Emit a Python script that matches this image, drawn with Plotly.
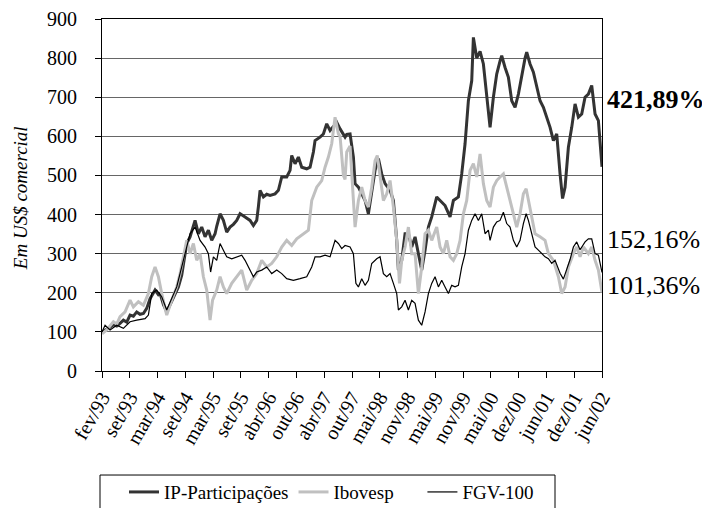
import plotly.graph_objects as go

# x axis: labelled periods (one unit = one tick interval)
tick_labels = ["fev/93", "set/93", "mar/94", "set/94", "mar/95", "set/95", "abr/96",
               "out/96", "abr/97", "out/97", "mai/98", "nov/98", "mai/99", "nov/99",
               "mai/00", "dez/00", "jun/01", "dez/01", "jun/02"]
y_ticks = [0, 100, 200, 300, 400, 500, 600, 700, 800, 900]

# IP-Participações
ip_x = [0, 0.11, 0.29, 0.41, 0.53, 0.65, 0.77, 0.89, 1.01, 1.13, 1.25, 1.37, 1.49, 1.61, 1.73, 1.91,
        2.03, 2.09, 2.21, 2.33, 2.45, 2.57, 2.69, 2.75, 2.87, 2.93, 3.05, 3.17, 3.29, 3.35, 3.47,
        3.59, 3.71, 3.83, 3.95, 4.07, 4.13, 4.25, 4.37, 4.49, 4.61, 4.73, 4.85, 4.97, 5.15, 5.33,
        5.45, 5.57, 5.63, 5.69, 5.81, 5.93, 6.05, 6.23, 6.35, 6.47, 6.65, 6.77, 6.83, 6.95, 7.07,
        7.19, 7.37, 7.49, 7.61, 7.67, 7.85, 7.97, 8.09, 8.21, 8.33, 8.45, 8.57, 8.75, 8.81, 8.93,
        9.05, 9.11, 9.23, 9.35, 9.47, 9.59, 9.71, 9.83, 9.95, 10.07, 10.19, 10.37, 10.49, 10.61,
        10.67, 10.79, 10.91, 11.03, 11.15, 11.27, 11.39, 11.51, 11.63, 11.75, 11.87, 12.05, 12.17,
        12.35, 12.53, 12.65, 12.83, 12.95, 13.07, 13.19, 13.31, 13.37, 13.49, 13.61, 13.73, 13.85,
        13.97, 14.09, 14.21, 14.33, 14.39, 14.51, 14.63, 14.75, 14.87, 14.99, 15.11, 15.23, 15.29,
        15.41, 15.53, 15.65, 15.77, 15.89, 16.01, 16.13, 16.25, 16.37, 16.49, 16.58, 16.67, 16.79,
        16.91, 17.03, 17.15, 17.27, 17.39, 17.51, 17.63, 17.75, 17.87, 18]
ip_y = [100, 104, 112, 118, 115, 122, 130, 125, 143, 140, 151, 145, 147, 160, 185, 207,
        195, 198, 170, 151, 170, 190, 205, 215, 245, 275, 326, 343, 370, 385, 351,
        368, 343, 360, 334, 351, 370, 402, 385, 355, 368, 375, 385, 402, 394, 385,
        372, 385, 420, 462, 445, 452, 449, 453, 462, 496, 496, 513, 551, 530, 547,
        521, 517, 521, 560, 589, 598, 606, 632, 615, 625, 636, 619, 598, 605, 606,
        547, 479, 470, 453, 436, 402, 462, 513, 543, 504, 479, 462, 436, 334,
        258, 283, 351, 351, 317, 343, 300, 258, 309, 368, 394, 445, 436,
        423, 394, 436, 445, 504, 581, 691, 742, 853, 800, 817, 785, 708,
        623, 700, 759, 793, 806, 776, 751, 691, 674, 708, 759, 800, 815,
        785, 764, 725, 691, 674, 649, 623, 589, 606, 504, 441, 470, 572,
        623, 683, 649, 657, 700, 708, 730, 657, 640, 522]

# Ibovesp
ibov_x = [0, 0.17, 0.41, 0.53, 0.65, 0.83, 1.01, 1.13, 1.31, 1.49, 1.67, 1.79, 1.91, 2.03, 2.15,
          2.33, 2.51, 2.69, 2.81, 2.93, 3.05, 3.17, 3.29, 3.41, 3.53, 3.65, 3.77, 3.89, 3.98,
          4.13, 4.25, 4.37, 4.49, 4.67, 4.85, 5.03, 5.21, 5.39, 5.57, 5.75, 5.93, 6.11, 6.29,
          6.47, 6.65, 6.83, 7.01, 7.25, 7.43, 7.55, 7.73, 7.91, 8.03, 8.15, 8.27, 8.39, 8.51,
          8.57, 8.69, 8.75, 8.81, 8.93, 9.05, 9.11, 9.23, 9.35, 9.47, 9.59, 9.71, 9.83, 9.91,
          10.01, 10.13, 10.25, 10.37, 10.49, 10.61, 10.71, 10.79, 10.91, 11.03, 11.15, 11.27,
          11.39, 11.51, 11.63, 11.75, 11.87, 12.05, 12.17, 12.29, 12.41, 12.53, 12.65, 12.77,
          12.89, 13.01, 13.13, 13.25, 13.37, 13.49, 13.61, 13.73, 13.85, 13.97, 14.09, 14.21,
          14.33, 14.45, 14.57, 14.69, 14.81, 14.93, 15.05, 15.17, 15.27, 15.35, 15.47, 15.59,
          15.77, 15.95, 16.07, 16.25, 16.43, 16.55, 16.67, 16.79, 16.97, 17.09, 17.21, 17.33,
          17.51, 17.63, 17.75, 17.87, 18]
ibov_y = [95, 105, 126, 120, 139, 151, 181, 164, 177, 168, 198, 241, 266, 241, 198,
          143, 181, 215, 249, 292, 334, 300, 326, 283, 300, 241, 207, 130, 181,
          207, 241, 215, 198, 224, 241, 258, 207, 232, 249, 283, 266, 275, 292,
          317, 334, 321, 338, 351, 360, 436, 470, 487, 521, 547, 581, 649, 606,
          600, 500, 490, 560, 575, 419, 368, 436, 470, 436, 419, 470, 538, 551,
          504, 436, 453, 487, 419, 334, 224, 283, 317, 368, 300, 300,
          198, 266, 351, 360, 334, 368, 317, 300, 334, 292, 283, 300,
          334, 402, 436, 513, 530, 496, 555, 479, 436, 419, 470, 487,
          496, 504, 470, 436, 402, 368, 402, 453, 466, 436, 394, 351,
          343, 334, 300, 283, 241, 198, 215, 266, 300, 317, 292, 317,
          300, 317, 283, 258, 201]

# FGV-100
fgv_x = [0, 0.11, 0.29, 0.53, 0.77, 1.01, 1.25, 1.55, 1.67, 1.79, 1.97, 2.15, 2.33, 2.51, 2.69,
         2.87, 3.05, 3.17, 3.35, 3.53, 3.71, 3.83, 3.91, 4.01, 4.13, 4.25, 4.37, 4.49, 4.67,
         4.85, 5.03, 5.15, 5.33, 5.45, 5.57, 5.75, 5.93, 6.11, 6.29, 6.47, 6.65, 6.89, 7.13,
         7.37, 7.55, 7.67, 7.85, 8.03, 8.21, 8.39, 8.51, 8.63, 8.75, 8.93, 9.05, 9.14, 9.23,
         9.35, 9.47, 9.59, 9.71, 9.89, 10.01, 10.13, 10.25, 10.37, 10.49, 10.61, 10.67, 10.79,
         10.91, 11.03, 11.15, 11.27, 11.39, 11.51, 11.63, 11.75, 11.87, 11.99, 12.11, 12.23,
         12.35, 12.47, 12.59, 12.71, 12.83, 12.95, 13.07, 13.19, 13.31, 13.43, 13.55, 13.67,
         13.79, 13.91, 13.97, 14.09, 14.21, 14.33, 14.45, 14.57, 14.69, 14.81, 14.93, 15.05,
         15.17, 15.27, 15.35, 15.47, 15.59, 15.71, 15.83, 15.95, 16.07, 16.19, 16.31, 16.49,
         16.61, 16.73, 16.85, 16.97, 17.09, 17.21, 17.39, 17.51, 17.63, 17.75, 17.87, 18]
fgv_y = [100, 117, 105, 117, 109, 126, 130, 134, 143, 198, 207, 190, 156, 185, 215,
         266, 317, 351, 368, 334, 317, 300, 253, 292, 283, 326, 309, 292, 287,
         292, 296, 283, 258, 241, 253, 258, 266, 249, 258, 249, 236, 232, 236,
         241, 266, 292, 292, 296, 292, 334, 326, 313, 321, 317, 300, 224, 215,
         236, 219, 232, 275, 287, 292, 249, 241, 249, 224, 198, 156, 164,
         181, 156, 181, 173, 130, 117, 151, 198, 224, 241, 215, 232,
         215, 198, 219, 215, 219, 266, 300, 360, 385, 402, 385, 402,
         351, 360, 334, 368, 381, 385, 406, 377, 368, 334, 317, 334,
         377, 402, 385, 351, 317, 309, 300, 292, 287, 275, 283, 250,
         235, 260, 285, 317, 330, 310, 330, 338, 338, 300, 296, 252]

end_labels = ["<b>421,89%</b>", "152,16%", "101,36%"]

SERIF = "'Liberation Serif', 'Times New Roman', Times, serif"
NBSP = "\u00a0"
fig = go.Figure()
fig.add_trace(go.Scatter(x=ip_x, y=ip_y, mode="lines", name="IP-Participações",
                         line=dict(color="#333333", width=3)))
fig.add_trace(go.Scatter(x=ibov_x, y=ibov_y, mode="lines", name="Ibovesp" + NBSP * 5,
                         line=dict(color="#c0c0c0", width=3)))
fig.add_trace(go.Scatter(x=fgv_x, y=fgv_y, mode="lines", name="FGV-100",
                         line=dict(color="#000000", width=1.2)))

# page body adds an 8px offset, so the figure is 8px smaller than the window
fig.update_layout(
    width=702, height=500, autosize=False,
    margin=dict(l=94, r=108, t=11, b=137, autoexpand=False),
    paper_bgcolor="white", plot_bgcolor="white",
    font=dict(family=SERIF, color="black", size=19),
    showlegend=True,
    legend=dict(orientation="h", x=0.044, y=-0.29, xanchor="left", yanchor="top",
                font=dict(family=SERIF, size=19, color="black"),
                bgcolor="rgba(0,0,0,0)", borderwidth=0),
    xaxis=dict(range=[0, 18], tickmode="array", tickvals=list(range(len(tick_labels))),
               ticktext=tick_labels, tickangle=-60, ticks="outside", ticklen=6,
               tickcolor="black", showline=True, linecolor="black", linewidth=1,
               mirror=True, showgrid=False, zeroline=False,
               tickfont=dict(family=SERIF, size=20, color="black")),
    yaxis=dict(range=[0, 900], tickmode="array", tickvals=y_ticks, ticks="outside",
               ticklen=6, tickcolor="black", showline=True, linecolor="black",
               linewidth=1, mirror=True, showgrid=True, gridcolor="#666666",
               gridwidth=1, zeroline=False, ticklabelstandoff=14,
               tickfont=dict(family=SERIF, size=20, color="black")),
)

fig.add_annotation(text="<i>Em US$ comercial</i>", xref="paper", yref="paper",
                   x=-0.164, y=0.491, textangle=-90, showarrow=False,
                   xanchor="center", yanchor="middle",
                   font=dict(family=SERIF, size=19, color="black"))

for txt, yy in zip(end_labels, [0.771, 0.374, 0.244]):
    fig.add_annotation(text=txt, xref="paper", yref="paper", x=1.006, y=yy,
                       xanchor="left", yanchor="middle", showarrow=False,
                       font=dict(family=SERIF, size=26, color="black"))

# legend frame
fig.add_shape(type="rect", xref="paper", yref="paper", x0=-0.004, x1=0.906,
              y0=-0.2955, y1=-0.46, line=dict(color="black", width=1),
              fillcolor="rgba(0,0,0,0)", layer="above")

fig.write_html("out.html")
